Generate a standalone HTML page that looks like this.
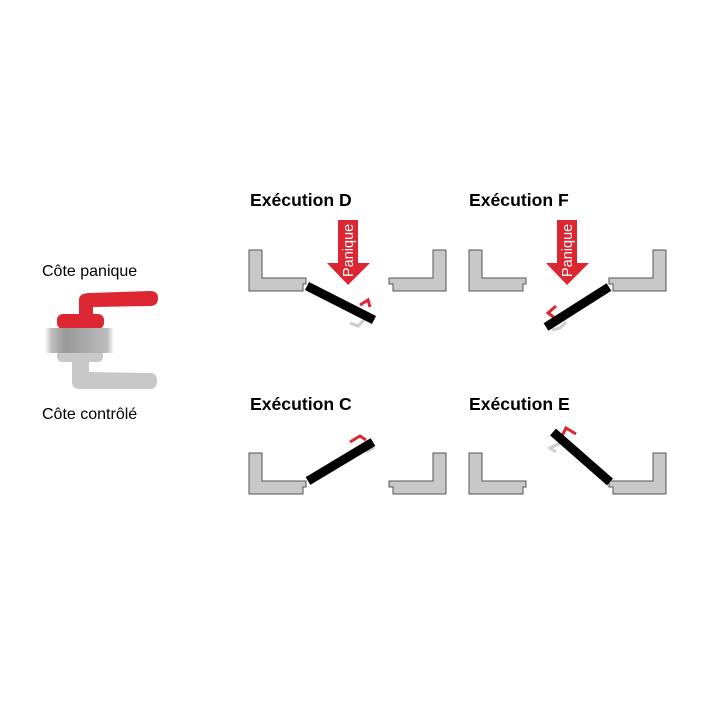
<!DOCTYPE html>
<html><head><style>
body{margin:0;background:#fff;}
svg{display:block;font-family:"Liberation Sans",Arial,sans-serif;}
</style></head><body>
<svg width="709" height="709" viewBox="0 0 709 709" xmlns="http://www.w3.org/2000/svg">
<defs>
<linearGradient id="g" x1="0" x2="1" y1="0" y2="0">
<stop offset="0" stop-color="#fff"/><stop offset="0.1" stop-color="#bbb"/><stop offset="0.3" stop-color="#999"/><stop offset="0.6" stop-color="#aaa"/><stop offset="0.9" stop-color="#bbb"/><stop offset="1" stop-color="#fff"/>
</linearGradient>
<path id="fl" d="M0,0 H13 V28 H57 V34 H54 V41 H0 Z" fill="#c8c8c8" stroke="#555" stroke-width="1"/>
<path id="fr" d="M57,0 H44 V28 H0 V34 H4 V41 H57 Z" fill="#c8c8c8" stroke="#555" stroke-width="1"/>
</defs>
<text x="42" y="276" font-size="16">Côte panique</text>
<text x="42" y="419" font-size="16">Côte contrôlé</text>
<path d="M79,318 V300 Q79,293 90,293 L150,291 Q158,291 158,298 Q158,306 150,306 L93,307 V318" fill="#dc2632"/>
<rect x="57" y="314" width="47" height="15" rx="6" fill="#dc2632"/>
<rect x="57" y="350" width="46" height="12" rx="5" fill="#c8c8c8"/>
<path d="M72,360 V382 Q72,389 80,389 L150,389 Q157,389 157,381 Q157,373 150,373 L89,372 V360 Z" fill="#c8c8c8"/>
<rect x="45" y="328" width="69" height="25" fill="url(#g)"/>
<g font-weight="bold" font-size="17.6">
<text x="250" y="206">Exécution D</text>
<text x="469" y="206">Exécution F</text>
<text x="250" y="410">Exécution C</text>
<text x="469" y="410">Exécution E</text>
</g>
<use href="#fl" x="249" y="250"/><use href="#fr" x="389" y="250"/>
<use href="#fl" x="469" y="250"/><use href="#fr" x="609" y="250"/>
<use href="#fl" x="249" y="453"/><use href="#fr" x="389" y="453"/>
<use href="#fl" x="469" y="453"/><use href="#fr" x="609" y="453"/>
<g fill="#dc2632">
<path d="M338,220 H358 V263 H370 L348,285 L327,263 H338 Z"/>
<path d="M557,220 H577 V263 H589 L567,285 L546,263 H557 Z"/>
</g>
<g fill="#fff" font-size="14.5">
<text transform="translate(353,277) rotate(-90)">Panique</text>
<text transform="translate(572,277) rotate(-90)">Panique</text>
</g>
<g stroke-linecap="butt" fill="none">
<path d="M360,305 L368,300 L370,307" stroke="#dc2632" stroke-width="3"/>
<path d="M350,323 L358,326 L364,320" stroke="#ccc" stroke-width="3"/>
<line x1="307" y1="286" x2="374" y2="320" stroke="#000" stroke-width="9"/>
<path d="M555,318 L548,313 L556,306" stroke="#dc2632" stroke-width="3"/>
<path d="M552,330 L560,328 L566,322" stroke="#ccc" stroke-width="3"/>
<line x1="609" y1="287" x2="546" y2="327" stroke="#000" stroke-width="9"/>
<path d="M350,442 L360,436 L366,440" stroke="#dc2632" stroke-width="3"/>
<path d="M366,452 L373,448 L372,443" stroke="#ccc" stroke-width="3"/>
<line x1="308" y1="481" x2="373" y2="442" stroke="#000" stroke-width="9"/>
<path d="M562,436 L566,428 L576,434" stroke="#dc2632" stroke-width="3"/>
<path d="M560,443 L550,448 L556,452" stroke="#ccc" stroke-width="3"/>
<line x1="610" y1="482" x2="553" y2="432" stroke="#000" stroke-width="9"/>
</g>
</svg>
</body></html>
